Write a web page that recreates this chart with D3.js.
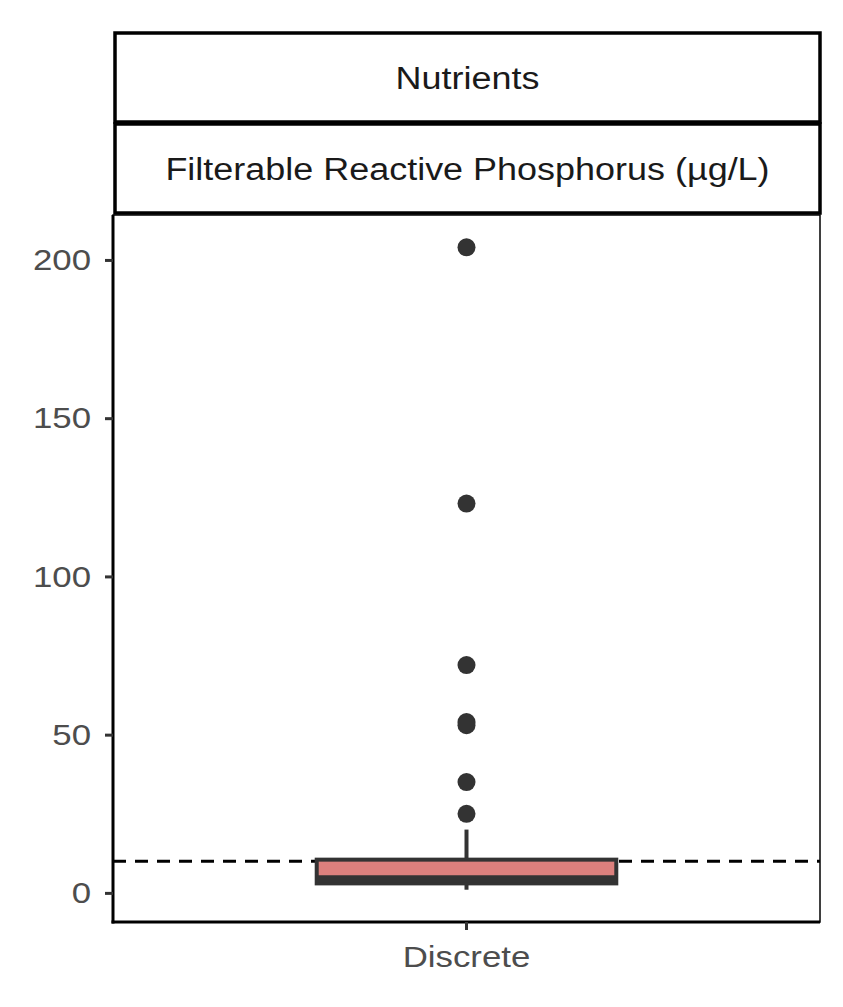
<!DOCTYPE html>
<html>
<head>
<meta charset="utf-8">
<script src="https://cdn.jsdelivr.net/npm/d3@7"></script>
<style>
  body { margin: 0; background: #fff; }
  text { font-family: "Liberation Sans", Arial, sans-serif; }
</style>
</head>
<body>
<div id="chart"></div>
<script>
var categories = ["Discrete"];
var boxStats = [{ lower: 1, q1: 3, median: 4.5, q3: 10.5, upper: 20 }];
var outliers = [204, 123, 72, 54, 53, 35, 25];
var yTicks = [0, 50, 100, 150, 200];
var guideline = 10;
var stripTitles = ["Nutrients", "Filterable Reactive Phosphorus (\u00b5g/L)"];

(function () {
  var width = 843, height = 1007;
  var pLeft = 113, pRight = 820, pTop = 215, pBottom = 922;
  var sx = 1.16; // glyphs in the reference are a little wide

  var svg = d3.select("#chart").append("svg")
    .attr("width", width)
    .attr("height", height);

  var y = d3.scaleLinear().domain([-9.2, 214.2]).range([pBottom, pTop]);
  var x = d3.scaleBand().domain(categories).range([pLeft, pRight]).paddingInner(0).paddingOuter(0.68);

  // strips
  var stripH = 89;
  stripTitles.forEach(function (t, i) {
    var sy = 33 + i * (stripH + 2);
    svg.append("rect")
      .attr("x", 115).attr("y", sy)
      .attr("width", pRight - 115).attr("height", stripH)
      .attr("fill", "#fff").attr("stroke", "#000").attr("stroke-width", 3.5);
    svg.append("text")
      .attr("transform", "translate(" + ((115 + pRight) / 2) + "," + (sy + stripH / 2 + 1) + ") scale(" + sx + ",1)")
      .attr("dy", "0.35em").attr("text-anchor", "middle")
      .attr("font-size", 31).attr("fill", "#1a1a1a")
      .text(t);
  });

  // panel border (thin)
  svg.append("rect")
    .attr("x", pLeft).attr("y", pTop)
    .attr("width", pRight - pLeft).attr("height", pBottom - pTop)
    .attr("fill", "none").attr("stroke", "#000").attr("stroke-width", 1.5);

  // dashed reference line
  svg.append("line")
    .attr("x1", pLeft).attr("x2", pRight)
    .attr("y1", y(guideline)).attr("y2", y(guideline))
    .attr("stroke", "#000").attr("stroke-width", 3)
    .attr("stroke-dasharray", "13,9");

  // boxplot
  var g = svg.append("g");
  boxStats.forEach(function (s, i) {
    var x0 = x(categories[i]), bw = x.bandwidth();
    var cx = x0 + bw / 2;
    g.append("line").attr("x1", cx).attr("x2", cx)
      .attr("y1", y(s.q3)).attr("y2", y(s.upper))
      .attr("stroke", "#333").attr("stroke-width", 4);
    g.append("line").attr("x1", cx).attr("x2", cx)
      .attr("y1", y(s.q1)).attr("y2", y(s.lower))
      .attr("stroke", "#333").attr("stroke-width", 4);
    g.append("rect")
      .attr("x", x0).attr("y", y(s.q3))
      .attr("width", bw).attr("height", y(s.q1) - y(s.q3))
      .attr("fill", "#dc807d").attr("stroke", "#333").attr("stroke-width", 4);
    g.append("line").attr("x1", x0).attr("x2", x0 + bw)
      .attr("y1", y(s.median)).attr("y2", y(s.median))
      .attr("stroke", "#333").attr("stroke-width", 7);
    g.selectAll(".out" + i).data(outliers).enter().append("circle")
      .attr("cx", cx).attr("cy", function (d) { return y(d); })
      .attr("r", 9).attr("fill", "#333");
  });

  // axes
  var yAxis = svg.append("g")
    .attr("transform", "translate(" + pLeft + ",0)")
    .call(d3.axisLeft(y).tickValues(yTicks).tickSize(8).tickPadding(14));
  var xAxis = svg.append("g")
    .attr("transform", "translate(0," + pBottom + ")")
    .call(d3.axisBottom(x).tickSize(8).tickPadding(16));

  [yAxis, xAxis].forEach(function (a) {
    a.select(".domain").attr("stroke", "#000").attr("stroke-width", 3);
    a.selectAll(".tick line").attr("stroke", "#333").attr("stroke-width", 3);
    a.selectAll(".tick text").attr("font-size", 30).attr("fill", "#4d4d4d")
      .style("font-family", "'Liberation Sans', Arial, sans-serif")
      .attr("transform", "scale(" + sx + ",1)");
  });
  yAxis.selectAll(".tick text").attr("x", -22 / sx);
  yAxis.select(".domain").attr("d", "M0," + pTop + "V" + (pBottom + 1.5));
  xAxis.select(".domain").attr("d", "M" + (pLeft - 1.5) + ",0H" + pRight);
})();
</script>
</body>
</html>
